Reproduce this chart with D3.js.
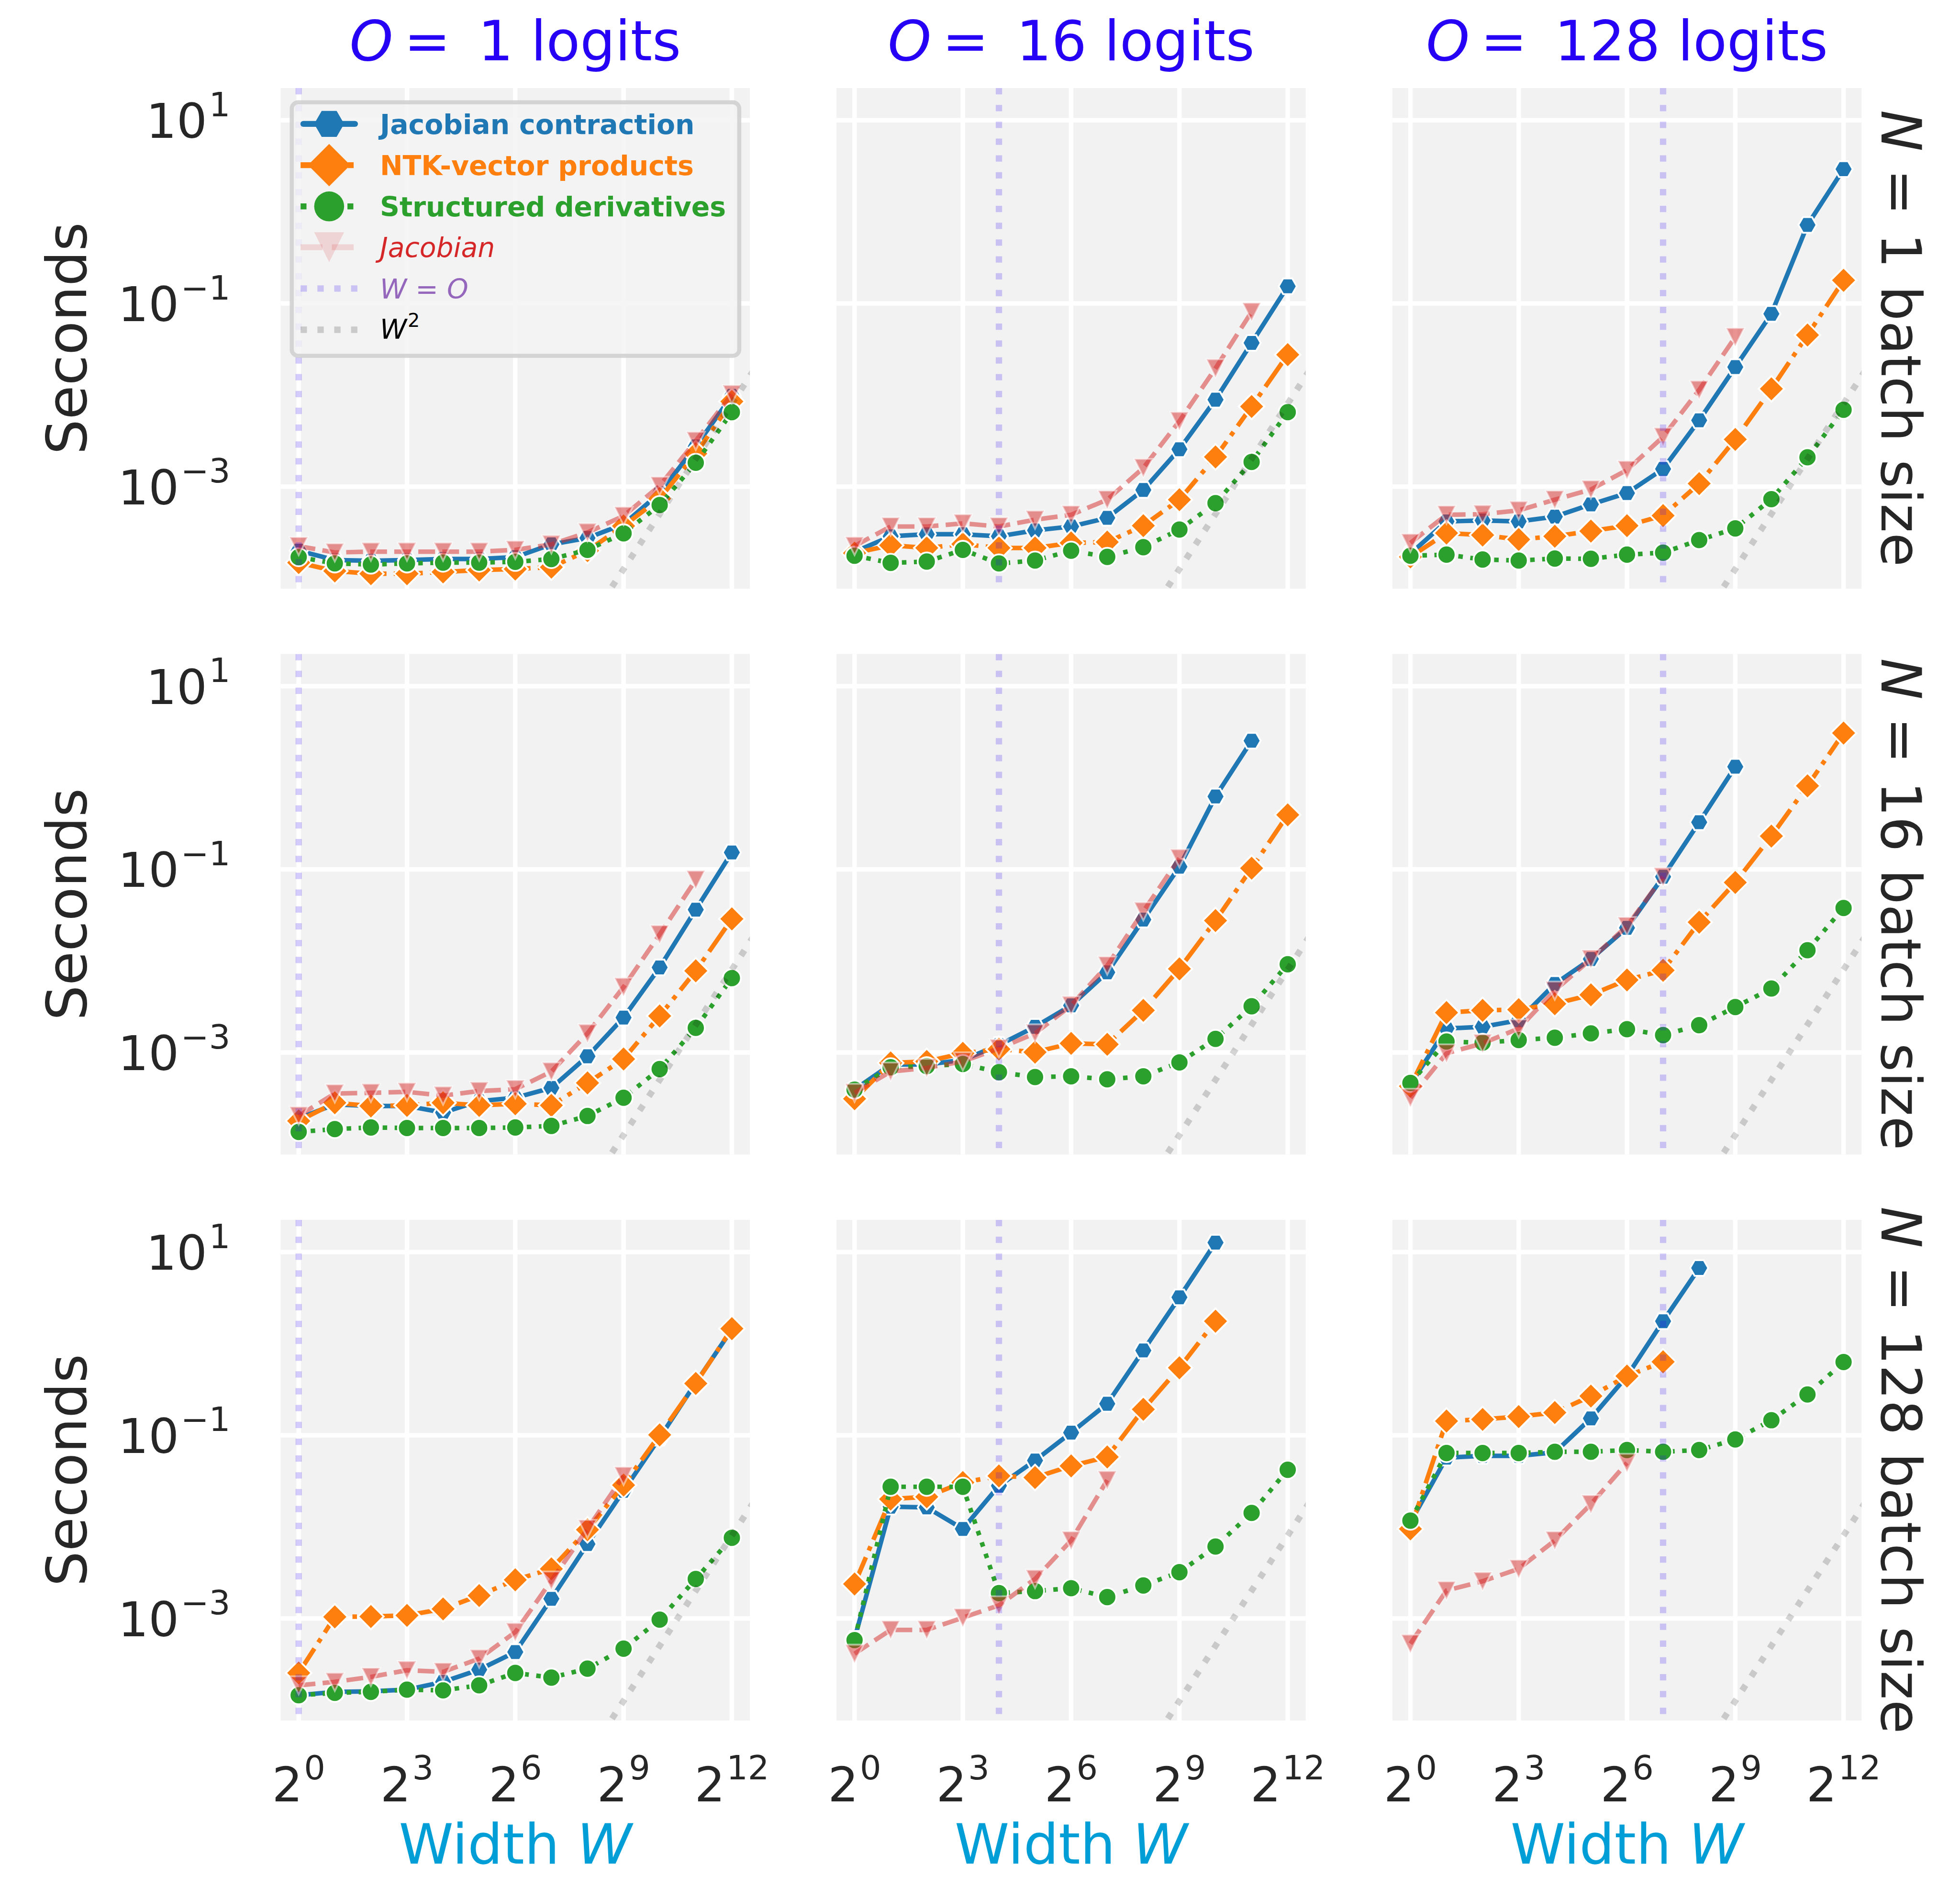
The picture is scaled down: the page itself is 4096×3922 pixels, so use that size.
<!DOCTYPE html>
<html><head><meta charset="utf-8">
<script src="https://cdn.jsdelivr.net/npm/d3@7"></script>
<style>html,body{margin:0;padding:0;background:#fff;} svg{display:block;}</style>
</head><body>
<script>
// ---------------- DATA ----------------
const widths = [1, 2, 4, 8, 16, 32, 64, 128, 256, 512, 1024, 2048, 4096];
const logitCounts = [1, 16, 128];      // columns (O)
const batchSizes = [1, 16, 128];       // rows (N)
const xTickValues = [1, 8, 64, 512, 4096];
const xTickExponents = ["0", "3", "6", "9", "12"];
const yTickValues = [10, 0.1, 0.001];
const yTickExponents = ["1", "\u22121", "\u22123"];
const w2Coefficient = 4.8e-10;          // reference W^2 line: seconds = c * W^2

// seconds, indexed [batch N][logits O][width]
const jacobianContraction = [
  [
    [2.0e-4,1.58e-4,1.55e-4,1.58e-4,1.62e-4,1.62e-4,1.70e-4,2.34e-4,2.75e-4,3.89e-4,8.5e-4,2.75e-3,9.8e-3],
    [1.94e-4,2.87e-4,3.02e-4,3.02e-4,2.87e-4,3.33e-4,3.67e-4,4.56e-4,9.2e-4,2.56e-3,8.9e-3,3.71e-2,0.154],
    [1.85e-4,4.17e-4,4.27e-4,4.17e-4,4.7e-4,6.4e-4,8.5e-4,1.56e-3,5.3e-3,2.02e-2,7.7e-2,0.72,2.93]
  ],
  [
    [1.91e-4,2.72e-4,2.61e-4,2.61e-4,2.21e-4,2.95e-4,3.21e-4,4.11e-4,9.1e-4,2.41e-3,8.5e-3,3.63e-2,0.153],
    [3.94e-4,7.4e-4,7.4e-4,8.3e-4,1.21e-3,1.91e-3,3.27e-3,7.5e-3,2.83e-2,0.107,0.625,2.54],
    [4.47e-4,1.83e-3,1.91e-3,2.25e-3,5.6e-3,1.05e-2,2.3e-2,8.3e-2,0.327,1.32]
  ],
  [
    [1.45e-4,1.58e-4,1.6e-4,1.67e-4,2.03e-4,2.76e-4,4.3e-4,1.64e-3,6.5e-3,2.48e-2,9.4e-2,0.374,1.43],
    [6.0e-4,1.66e-2,1.63e-2,9.5e-3,2.81e-2,5.3e-2,0.107,0.221,0.843,3.21,12.7],
    [1.12e-2,5.7e-2,5.96e-2,5.96e-2,6.5e-2,0.153,0.443,1.76,6.7]
  ]
];
const ntkVectorProducts = [
  [
    [1.48e-4,1.20e-4,1.12e-4,1.12e-4,1.17e-4,1.23e-4,1.26e-4,1.32e-4,2.0e-4,3.72e-4,7.4e-4,2.29e-3,8.5e-3],
    [1.88e-4,2.29e-4,2.14e-4,2.36e-4,2.14e-4,2.14e-4,2.43e-4,2.48e-4,3.75e-4,7.2e-4,2.11e-3,7.5e-3,2.76e-2],
    [1.71e-4,3.11e-4,2.96e-4,2.65e-4,2.87e-4,3.27e-4,3.75e-4,4.83e-4,1.08e-3,3.28e-3,1.17e-2,4.52e-2,0.179]
  ],
  [
    [1.79e-4,2.83e-4,2.61e-4,2.65e-4,2.83e-4,2.65e-4,2.76e-4,2.65e-4,4.66e-4,8.5e-4,2.51e-3,7.8e-3,2.88e-2],
    [3.13e-4,7.7e-4,8.0e-4,9.8e-4,1.09e-3,1.01e-3,1.26e-3,1.23e-3,2.89e-3,8.2e-3,2.76e-2,0.103,0.394],
    [4.29e-4,2.73e-3,2.89e-3,2.94e-3,3.41e-3,4.27e-3,6.2e-3,7.9e-3,2.65e-2,7.2e-2,0.231,0.817,3.08]
  ],
  [
    [2.54e-4,1.04e-3,1.05e-3,1.08e-3,1.27e-3,1.78e-3,2.64e-3,3.48e-3,9.3e-3,2.86e-2,0.101,0.368,1.46],
    [2.38e-3,2.01e-2,2.13e-2,3.05e-2,3.6e-2,3.46e-2,4.63e-2,5.8e-2,0.192,0.546,1.76],
    [9.5e-3,0.143,0.149,0.16,0.177,0.268,0.443,0.634]
  ]
];
const structuredDerivatives = [
  [
    [1.70e-4,1.45e-4,1.41e-4,1.45e-4,1.48e-4,1.48e-4,1.51e-4,1.62e-4,2.04e-4,3.09e-4,6.3e-4,1.82e-3,6.5e-3],
    [1.76e-4,1.47e-4,1.52e-4,2.04e-4,1.45e-4,1.56e-4,2.0e-4,1.71e-4,2.18e-4,3.4e-4,6.6e-4,1.86e-3,6.5e-3],
    [1.76e-4,1.81e-4,1.6e-4,1.56e-4,1.64e-4,1.63e-4,1.81e-4,1.9e-4,2.61e-4,3.5e-4,7.3e-4,2.09e-3,6.9e-3]
  ],
  [
    [1.36e-4,1.46e-4,1.52e-4,1.5e-4,1.5e-4,1.5e-4,1.52e-4,1.58e-4,2.03e-4,3.21e-4,6.6e-4,1.86e-3,6.5e-3],
    [3.94e-4,6.9e-4,7.1e-4,7.5e-4,6.1e-4,5.4e-4,5.5e-4,5.1e-4,5.5e-4,7.8e-4,1.41e-3,3.2e-3,9.2e-3],
    [4.66e-4,1.32e-3,1.28e-3,1.37e-3,1.45e-3,1.62e-3,1.8e-3,1.55e-3,1.99e-3,3.14e-3,5.0e-3,1.31e-2,3.79e-2]
  ],
  [
    [1.45e-4,1.54e-4,1.58e-4,1.67e-4,1.64e-4,1.86e-4,2.54e-4,2.26e-4,2.83e-4,4.68e-4,9.7e-4,2.7e-3,7.6e-3],
    [5.8e-4,2.74e-2,2.74e-2,2.74e-2,1.89e-3,1.99e-3,2.14e-3,1.71e-3,2.29e-3,3.2e-3,6.1e-3,1.42e-2,4.2e-2],
    [1.17e-2,6.4e-2,6.4e-2,6.4e-2,6.6e-2,6.6e-2,6.9e-2,6.6e-2,6.9e-2,9.0e-2,0.146,0.279,0.63]
  ]
];
const jacobian = [
  [
    [2.24e-4,1.91e-4,1.95e-4,1.95e-4,1.95e-4,1.95e-4,2.04e-4,2.34e-4,3.16e-4,4.79e-4,1.02e-3,3.16e-3,1.02e-2],
    [2.25e-4,3.67e-4,3.67e-4,3.97e-4,3.67e-4,4.35e-4,4.93e-4,7.2e-4,1.6e-3,5.2e-3,1.96e-2,8.1e-2],
    [2.43e-4,4.93e-4,5.0e-4,5.5e-4,7.2e-4,9.3e-4,1.52e-3,3.5e-3,1.14e-2,4.3e-2]
  ],
  [
    [2.04e-4,3.57e-4,3.63e-4,3.72e-4,3.39e-4,3.8e-4,3.98e-4,6.2e-4,1.62e-3,5.2e-3,1.95e-2,7.7e-2],
    [3.63e-4,6.2e-4,6.8e-4,8.0e-4,1.11e-3,1.62e-3,3.27e-3,8.9e-3,3.48e-2,0.132],
    [3.21e-4,9.8e-4,1.26e-3,1.83e-3,4.75e-3,1.05e-2,2.4e-2,8.3e-2]
  ],
  [
    [1.86e-4,2.03e-4,2.3e-4,2.72e-4,2.61e-4,3.64e-4,7.1e-4,2.59e-3,9.5e-3,3.6e-2],
    [4.12e-4,7.5e-4,7.5e-4,1.02e-3,1.39e-3,2.7e-3,7.1e-3,3.24e-2],
    [5.3e-4,2.02e-3,2.55e-3,3.48e-3,7.1e-3,1.77e-2,5.0e-2]
  ]
];
const seriesNames = ["Jacobian contraction", "NTK-vector products", "Structured derivatives", "Jacobian"];

// ---------------- STYLE / LAYOUT ----------------
const REF_W = 4323, REF_H = 4139;
const panelLeft = [619, 1845, 3071], panelTop = [194, 1442, 2690];
const panelW = 1035, panelH = 1104;
const titleColor = "#2600f5", labelColor = "#262626", xLabelColor = "#009ed6";
const FONT = "'DejaVu Sans', sans-serif";
const seriesStyles = [
  {color: "#1f77b4", dash: null, marker: "hexagon", alpha: 1, legendAlpha: 1, bold: true},
  {color: "#ff7f0e", dash: [6.4, 1.6, 1, 1.6], marker: "diamond", alpha: 1, legendAlpha: 1, bold: true},
  {color: "#2ca02c", dash: [1, 1.65], marker: "circle", alpha: 1, legendAlpha: 1, bold: true},
  {color: "#d62728", dash: [3.7, 1.6], marker: "triangle", alpha: 0.5, legendAlpha: 0.15, bold: false}
];
const LW = 10, MS = 40, MEW = 4;

const svg = d3.select("body").append("svg")
  .attr("width", 4096).attr("height", 3922)
  .attr("viewBox", `0 0 ${REF_W} ${REF_H}`)
  .style("font-family", FONT);
svg.append("rect").attr("width", REF_W).attr("height", REF_H).attr("fill", "#ffffff");
const defs = svg.append("defs");

const x = d3.scaleLog().base(2).domain([Math.pow(2, -0.5), Math.pow(2, 12.5)]).range([0, panelW]);
const y = d3.scaleLog().domain([Math.pow(10, -4.114), Math.pow(10, 1.352)]).range([panelH, 0]);

function markerPath(type, ms) {
  const r = ms / 2;
  let pts;
  if (type === "circle") return `M${-r},0A${r},${r} 0 1,0 ${r},0A${r},${r} 0 1,0 ${-r},0Z`;
  if (type === "hexagon") pts = d3.range(6).map(i => [r * Math.cos(i * Math.PI / 3), r * Math.sin(i * Math.PI / 3)]);
  if (type === "diamond") { const h = ms / Math.SQRT2; pts = [[0, -h], [h, 0], [0, h], [-h, 0]]; }
  if (type === "triangle") pts = [[-r, -r], [r, -r], [0, r]];
  return "M" + pts.map(p => p.join(",")).join("L") + "Z";
}
const dashStr = (d, lw) => d ? d.map(v => v * lw).join(" ") : null;

const seriesData = [jacobianContraction, ntkVectorProducts, structuredDerivatives, jacobian];
const line = d3.line().x((d, i) => x(widths[i])).y(d => y(d));
const w2Widths = widths.concat([8192]);
const w2Line = d3.line().x(w => x(w)).y(w => y(w2Coefficient * w * w));

batchSizes.forEach((N, r) => {
  logitCounts.forEach((O, c) => {
    const g = svg.append("g").attr("transform", `translate(${panelLeft[c]},${panelTop[r]})`);
    g.append("rect").attr("width", panelW).attr("height", panelH).attr("fill", "#f2f2f2");
    const cid = `clip-${r}-${c}`;
    defs.append("clipPath").attr("id", cid).append("rect").attr("width", panelW).attr("height", panelH);
    // grid
    g.selectAll(".vg").data(xTickValues).enter().append("line")
      .attr("x1", d => x(d)).attr("x2", d => x(d)).attr("y1", 0).attr("y2", panelH)
      .attr("stroke", "#ffffff").attr("stroke-width", 10);
    g.selectAll(".hg").data(yTickValues).enter().append("line")
      .attr("y1", d => y(d)).attr("y2", d => y(d)).attr("x1", 0).attr("x2", panelW)
      .attr("stroke", "#ffffff").attr("stroke-width", 10);

    const dg = g.append("g").attr("clip-path", `url(#${cid})`);
    seriesData.forEach((sd, s) => {
      const st = seriesStyles[s];
      const vals = sd[r][c];
      dg.append("path").attr("d", line(vals)).attr("fill", "none")
        .attr("stroke", st.color).attr("stroke-width", LW)
        .attr("stroke-opacity", st.alpha)
        .attr("stroke-dasharray", dashStr(st.dash, LW))
        .attr("stroke-linecap", st.dash ? "butt" : "round")
        .attr("stroke-linejoin", "round");
      dg.selectAll(null).data(vals).enter().append("path")
        .attr("d", markerPath(st.marker, MS))
        .attr("transform", (d, i) => `translate(${x(widths[i])},${y(d)})`)
        .attr("fill", st.color).attr("fill-opacity", st.alpha)
        .attr("stroke", "#ffffff").attr("stroke-width", MEW).attr("stroke-opacity", st.alpha)
        .attr("stroke-linejoin", "miter");
    });
    // W = O line
    dg.append("line").attr("x1", x(O)).attr("x2", x(O)).attr("y1", 0).attr("y2", panelH)
      .attr("stroke", titleColor).attr("stroke-opacity", 0.2).attr("stroke-width", 14)
      .attr("stroke-dasharray", dashStr([1, 1.65], 14));
    // W^2 line
    dg.append("path").attr("d", w2Line(w2Widths)).attr("fill", "none")
      .attr("stroke", "#000000").attr("stroke-opacity", 0.17).attr("stroke-width", 14)
      .attr("stroke-dasharray", dashStr([1, 1.65], 14));

    // y tick labels (first column)
    if (c === 0) {
      yTickValues.forEach((v, k) => {
        const t = svg.append("text").attr("x", 508).attr("y", panelTop[r] + y(v) + 39)
          .attr("text-anchor", "end").attr("font-size", 106).attr("fill", labelColor);
        t.append("tspan").text("10");
        t.append("tspan").attr("font-size", 74).attr("dy", -48).attr("dx", 4).text(yTickExponents[k]);
      });
      svg.append("text").attr("transform", `translate(190,${panelTop[r] + panelH / 2}) rotate(-90)`)
        .attr("text-anchor", "middle").attr("font-size", 122).attr("fill", labelColor).text("Seconds");
    }
    // x tick labels (bottom row)
    if (r === batchSizes.length - 1) {
      xTickValues.forEach((v, k) => {
        const t = svg.append("text").attr("x", panelLeft[c] + x(v)).attr("y", panelTop[r] + panelH + 178)
          .attr("text-anchor", "middle").attr("font-size", 106).attr("fill", labelColor);
        t.append("tspan").text("2");
        t.append("tspan").attr("font-size", 74).attr("dy", -48).attr("dx", 3).text(xTickExponents[k]);
      });
      const xl = svg.append("text").attr("x", panelLeft[c] + panelW / 2).attr("y", 4110)
        .attr("text-anchor", "middle").attr("font-size", 122).attr("fill", xLabelColor)
        .attr("xml:space", "preserve");
      xl.append("tspan").text("Width ");
      xl.append("tspan").attr("font-style", "italic").text("W");
    }
    // column titles
    if (r === 0) {
      const t = svg.append("text").attr("x", panelLeft[c] + panelW / 2).attr("y", 133)
        .attr("text-anchor", "middle").attr("font-size", 122).attr("fill", titleColor)
        .attr("xml:space", "preserve");
      t.append("tspan").attr("font-style", "italic").text("O");
      t.append("tspan").text("\u2009=\u2002" + O + " logits");
    }
    // row labels
    if (c === logitCounts.length - 1) {
      const t = svg.append("text").attr("transform", `translate(4150,${panelTop[r] + panelH / 2}) rotate(90)`)
        .attr("text-anchor", "middle").attr("font-size", 122).attr("fill", labelColor)
        .attr("xml:space", "preserve");
      t.append("tspan").attr("font-style", "italic").text("N");
      t.append("tspan").text(" = " + N + " batch size");
    }
  });
});

// ---------------- LEGEND ----------------
const lg = svg.append("g");
lg.append("rect").attr("x", 643.5).attr("y", 225.5).attr("width", 987).attr("height", 559)
  .attr("rx", 14).attr("ry", 14)
  .attr("fill", "#f2f2f2").attr("fill-opacity", 0.8)
  .attr("stroke", "#cccccc").attr("stroke-opacity", 0.8).attr("stroke-width", 9);
const legY = [273, 364, 455, 545, 636, 727];
const hx0 = 663, hx1 = 789, hxc = 726, textX = 838, LLW = 13, LMS = 66;
seriesStyles.forEach((st, s) => {
  const cy = legY[s];
  lg.append("line").attr("x1", st.dash ? hx0 : hx0 + 6).attr("x2", st.dash ? hx1 : hx1 - 6)
    .attr("y1", cy).attr("y2", cy)
    .attr("stroke", st.color).attr("stroke-width", LLW).attr("stroke-opacity", st.legendAlpha)
    .attr("stroke-dasharray", dashStr(st.dash, LLW))
    .attr("stroke-linecap", st.dash ? "butt" : "round");
  lg.append("path").attr("d", markerPath(st.marker, LMS))
    .attr("transform", `translate(${hxc},${cy})`)
    .attr("fill", st.color).attr("fill-opacity", st.legendAlpha);
  lg.append("text").attr("x", textX).attr("y", cy + 22).attr("font-size", 60)
    .attr("fill", st.color)
    .attr("font-weight", st.bold ? "bold" : "normal")
    .attr("font-style", st.bold ? "normal" : "italic")
    .text(seriesNames[s]);
});
// W = O entry
lg.append("line").attr("x1", hx0).attr("x2", hx1).attr("y1", legY[4]).attr("y2", legY[4])
  .attr("stroke", titleColor).attr("stroke-opacity", 0.2).attr("stroke-width", 14)
  .attr("stroke-dasharray", dashStr([1, 1.65], 14));
{
  const t = lg.append("text").attr("x", textX).attr("y", legY[4] + 22).attr("font-size", 60)
    .attr("fill", "#9467bd").attr("xml:space", "preserve");
  t.append("tspan").attr("font-style", "italic").text("W");
  t.append("tspan").text(" = ");
  t.append("tspan").attr("font-style", "italic").text("O");
}
// W^2 entry
lg.append("line").attr("x1", hx0).attr("x2", hx1).attr("y1", legY[5]).attr("y2", legY[5])
  .attr("stroke", "#000000").attr("stroke-opacity", 0.17).attr("stroke-width", 14)
  .attr("stroke-dasharray", dashStr([1, 1.65], 14));
{
  const t = lg.append("text").attr("x", textX).attr("y", legY[5] + 20).attr("font-size", 60)
    .attr("fill", "#000000");
  t.append("tspan").attr("font-style", "italic").text("W");
  t.append("tspan").attr("font-size", 42).attr("dy", -26).attr("dx", 2).text("2");
}
</script>
</body></html>
